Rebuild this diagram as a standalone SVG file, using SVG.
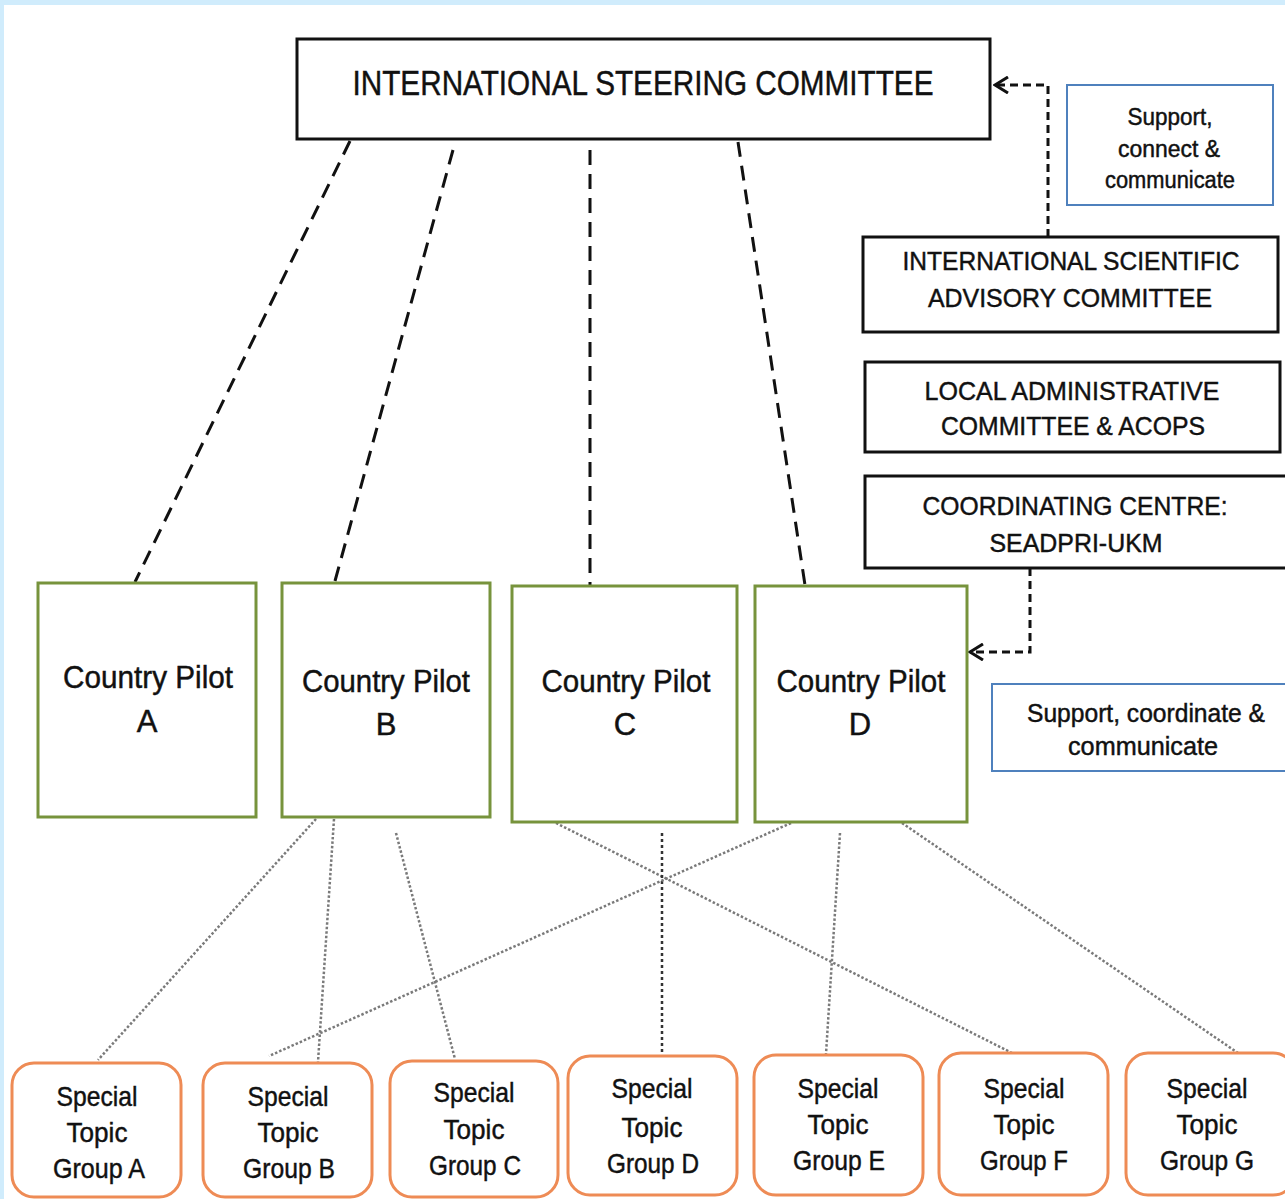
<svg xmlns="http://www.w3.org/2000/svg" width="1285" height="1199" viewBox="0 0 1285 1199">
<defs>
<style>
.t{font-family:"Liberation Sans",Arial,sans-serif;fill:#111;stroke:#111;stroke-width:0.45;text-anchor:middle}
.box{fill:#fff;stroke:#111;stroke-width:3}
.blue{fill:#fff;stroke:#4F81BD;stroke-width:2}
.green{fill:#fff;stroke:#77933C;stroke-width:3}
.orange{fill:#fff;stroke:#EE8B55;stroke-width:3}
.dash{fill:none;stroke:#111;stroke-width:3;stroke-dasharray:15 9}
.dot{fill:none;stroke:#7a7a7a;stroke-width:2.5;stroke-dasharray:2.5 2}
.arr{fill:none;stroke:#111;stroke-width:3;stroke-dasharray:8 5}
</style>
<marker id="chev" viewBox="0 0 16 18" refX="14" refY="9" markerWidth="16" markerHeight="18" markerUnits="userSpaceOnUse" orient="auto">
<path d="M1,1 L14,9 L1,17" fill="none" stroke="#111" stroke-width="3"/>
</marker>
</defs>
<rect x="0" y="0" width="1285" height="1199" fill="#D0ECFC"/>
<rect x="4" y="5" width="1281" height="1194" fill="#fff"/>

<g id="connectors">
<line class="dash" x1="350" y1="141" x2="135" y2="582"/>
<line class="dash" x1="453" y1="150" x2="335" y2="581"/>
<line class="dash" x1="590" y1="150" x2="590" y2="585"/>
<line class="dash" x1="738" y1="142" x2="805" y2="585"/>
<path class="arr" d="M1048 237 V85 H995" marker-end="url(#chev)"/>
<path class="arr" d="M1030 568 V652 H970" marker-end="url(#chev)"/>
<line class="dot" x1="316" y1="819" x2="98" y2="1060"/>
<line class="dot" x1="334" y1="819" x2="318" y2="1062"/>
<line class="dot" x1="396" y1="833" x2="455" y2="1059"/>
<line class="dot" x1="556" y1="823" x2="1012" y2="1053"/>
<line class="dot" x1="662" y1="833" x2="662" y2="1055" style="stroke:#333;stroke-dasharray:3 3"/>
<line class="dot" x1="791" y1="823" x2="269" y2="1056"/>
<line class="dot" x1="840" y1="833" x2="826" y2="1054"/>
<line class="dot" x1="902" y1="823" x2="1238" y2="1053"/>
</g>

<g id="isc">
<rect class="box" x="297" y="39" width="693" height="100"/>
<text class="t" x="643" y="95" font-size="35" textLength="581" lengthAdjust="spacingAndGlyphs">INTERNATIONAL STEERING COMMITTEE</text>
</g>

<g id="note-isac">
<rect class="blue" x="1067" y="85" width="206" height="120"/>
<text class="t" x="1170" y="125" font-size="23" textLength="85" lengthAdjust="spacingAndGlyphs">Support,</text>
<text class="t" x="1169" y="157" font-size="23" textLength="102" lengthAdjust="spacingAndGlyphs">connect &amp;</text>
<text class="t" x="1170" y="188" font-size="23" textLength="130" lengthAdjust="spacingAndGlyphs">communicate</text>
</g>

<g id="isac">
<rect class="box" x="863" y="237" width="415" height="95"/>
<text class="t" x="1071" y="270" font-size="26" textLength="337" lengthAdjust="spacingAndGlyphs">INTERNATIONAL SCIENTIFIC</text>
<text class="t" x="1070" y="307" font-size="26" textLength="284" lengthAdjust="spacingAndGlyphs">ADVISORY COMMITTEE</text>
</g>

<g id="lac">
<rect class="box" x="865" y="362" width="415" height="90"/>
<text class="t" x="1072" y="400" font-size="26" textLength="295" lengthAdjust="spacingAndGlyphs">LOCAL ADMINISTRATIVE</text>
<text class="t" x="1073" y="435" font-size="26" textLength="264" lengthAdjust="spacingAndGlyphs">COMMITTEE &amp; ACOPS</text>
</g>

<g id="cc">
<rect class="box" x="865" y="476" width="425" height="92"/>
<text class="t" x="1075" y="515" font-size="26" textLength="305" lengthAdjust="spacingAndGlyphs">COORDINATING CENTRE:</text>
<text class="t" x="1076" y="552" font-size="26" textLength="173" lengthAdjust="spacingAndGlyphs">SEADPRI-UKM</text>
</g>

<g id="note-cc">
<rect class="blue" x="992" y="684" width="300" height="87"/>
<text class="t" x="1146" y="722" font-size="25" textLength="238" lengthAdjust="spacingAndGlyphs">Support, coordinate &amp;</text>
<text class="t" x="1143" y="755" font-size="25" textLength="150" lengthAdjust="spacingAndGlyphs">communicate</text>
</g>

<g id="pilot-a">
<rect class="green" x="38" y="583" width="218" height="234"/>
<text class="t" x="148" y="688" font-size="31" textLength="170" lengthAdjust="spacingAndGlyphs">Country Pilot</text>
<text class="t" x="147" y="732" font-size="31">A</text>
</g>
<g id="pilot-b">
<rect class="green" x="282" y="583" width="208" height="234"/>
<text class="t" x="386" y="692" font-size="31" textLength="168" lengthAdjust="spacingAndGlyphs">Country Pilot</text>
<text class="t" x="386" y="735" font-size="31">B</text>
</g>
<g id="pilot-c">
<rect class="green" x="512" y="586" width="225" height="236"/>
<text class="t" x="626" y="692" font-size="31" textLength="169" lengthAdjust="spacingAndGlyphs">Country Pilot</text>
<text class="t" x="625" y="735" font-size="31">C</text>
</g>
<g id="pilot-d">
<rect class="green" x="755" y="586" width="212" height="236"/>
<text class="t" x="861" y="692" font-size="31" textLength="169" lengthAdjust="spacingAndGlyphs">Country Pilot</text>
<text class="t" x="860" y="735" font-size="31">D</text>
</g>

<g id="stg-a">
<rect class="orange" x="12" y="1063" width="169" height="134" rx="22"/>
<text class="t" x="97" y="1106" font-size="28" textLength="81" lengthAdjust="spacingAndGlyphs">Special</text>
<text class="t" x="97" y="1142" font-size="28" textLength="61" lengthAdjust="spacingAndGlyphs">Topic</text>
<text class="t" x="99" y="1178" font-size="28" textLength="92" lengthAdjust="spacingAndGlyphs">Group A</text>
</g>
<g id="stg-b">
<rect class="orange" x="203" y="1063" width="169" height="134" rx="22"/>
<text class="t" x="288" y="1106" font-size="28" textLength="81" lengthAdjust="spacingAndGlyphs">Special</text>
<text class="t" x="288" y="1142" font-size="28" textLength="61" lengthAdjust="spacingAndGlyphs">Topic</text>
<text class="t" x="289" y="1178" font-size="28" textLength="92" lengthAdjust="spacingAndGlyphs">Group B</text>
</g>
<g id="stg-c">
<rect class="orange" x="390" y="1061" width="168" height="136" rx="22"/>
<text class="t" x="474" y="1102" font-size="28" textLength="81" lengthAdjust="spacingAndGlyphs">Special</text>
<text class="t" x="474" y="1139" font-size="28" textLength="61" lengthAdjust="spacingAndGlyphs">Topic</text>
<text class="t" x="475" y="1175" font-size="28" textLength="92" lengthAdjust="spacingAndGlyphs">Group C</text>
</g>
<g id="stg-d">
<rect class="orange" x="568" y="1056" width="169" height="139" rx="22"/>
<text class="t" x="652" y="1098" font-size="28" textLength="81" lengthAdjust="spacingAndGlyphs">Special</text>
<text class="t" x="652" y="1137" font-size="28" textLength="61" lengthAdjust="spacingAndGlyphs">Topic</text>
<text class="t" x="653" y="1173" font-size="28" textLength="92" lengthAdjust="spacingAndGlyphs">Group D</text>
</g>
<g id="stg-e">
<rect class="orange" x="754" y="1055" width="169" height="140" rx="22"/>
<text class="t" x="838" y="1098" font-size="28" textLength="81" lengthAdjust="spacingAndGlyphs">Special</text>
<text class="t" x="838" y="1134" font-size="28" textLength="61" lengthAdjust="spacingAndGlyphs">Topic</text>
<text class="t" x="839" y="1170" font-size="28" textLength="92" lengthAdjust="spacingAndGlyphs">Group E</text>
</g>
<g id="stg-f">
<rect class="orange" x="939" y="1053" width="169" height="142" rx="22"/>
<text class="t" x="1024" y="1098" font-size="28" textLength="81" lengthAdjust="spacingAndGlyphs">Special</text>
<text class="t" x="1024" y="1134" font-size="28" textLength="61" lengthAdjust="spacingAndGlyphs">Topic</text>
<text class="t" x="1024" y="1170" font-size="28" textLength="88" lengthAdjust="spacingAndGlyphs">Group F</text>
</g>
<g id="stg-g">
<rect class="orange" x="1126" y="1053" width="169" height="142" rx="22"/>
<text class="t" x="1207" y="1098" font-size="28" textLength="81" lengthAdjust="spacingAndGlyphs">Special</text>
<text class="t" x="1207" y="1134" font-size="28" textLength="61" lengthAdjust="spacingAndGlyphs">Topic</text>
<text class="t" x="1207" y="1170" font-size="28" textLength="94" lengthAdjust="spacingAndGlyphs">Group G</text>
</g>
</svg>
